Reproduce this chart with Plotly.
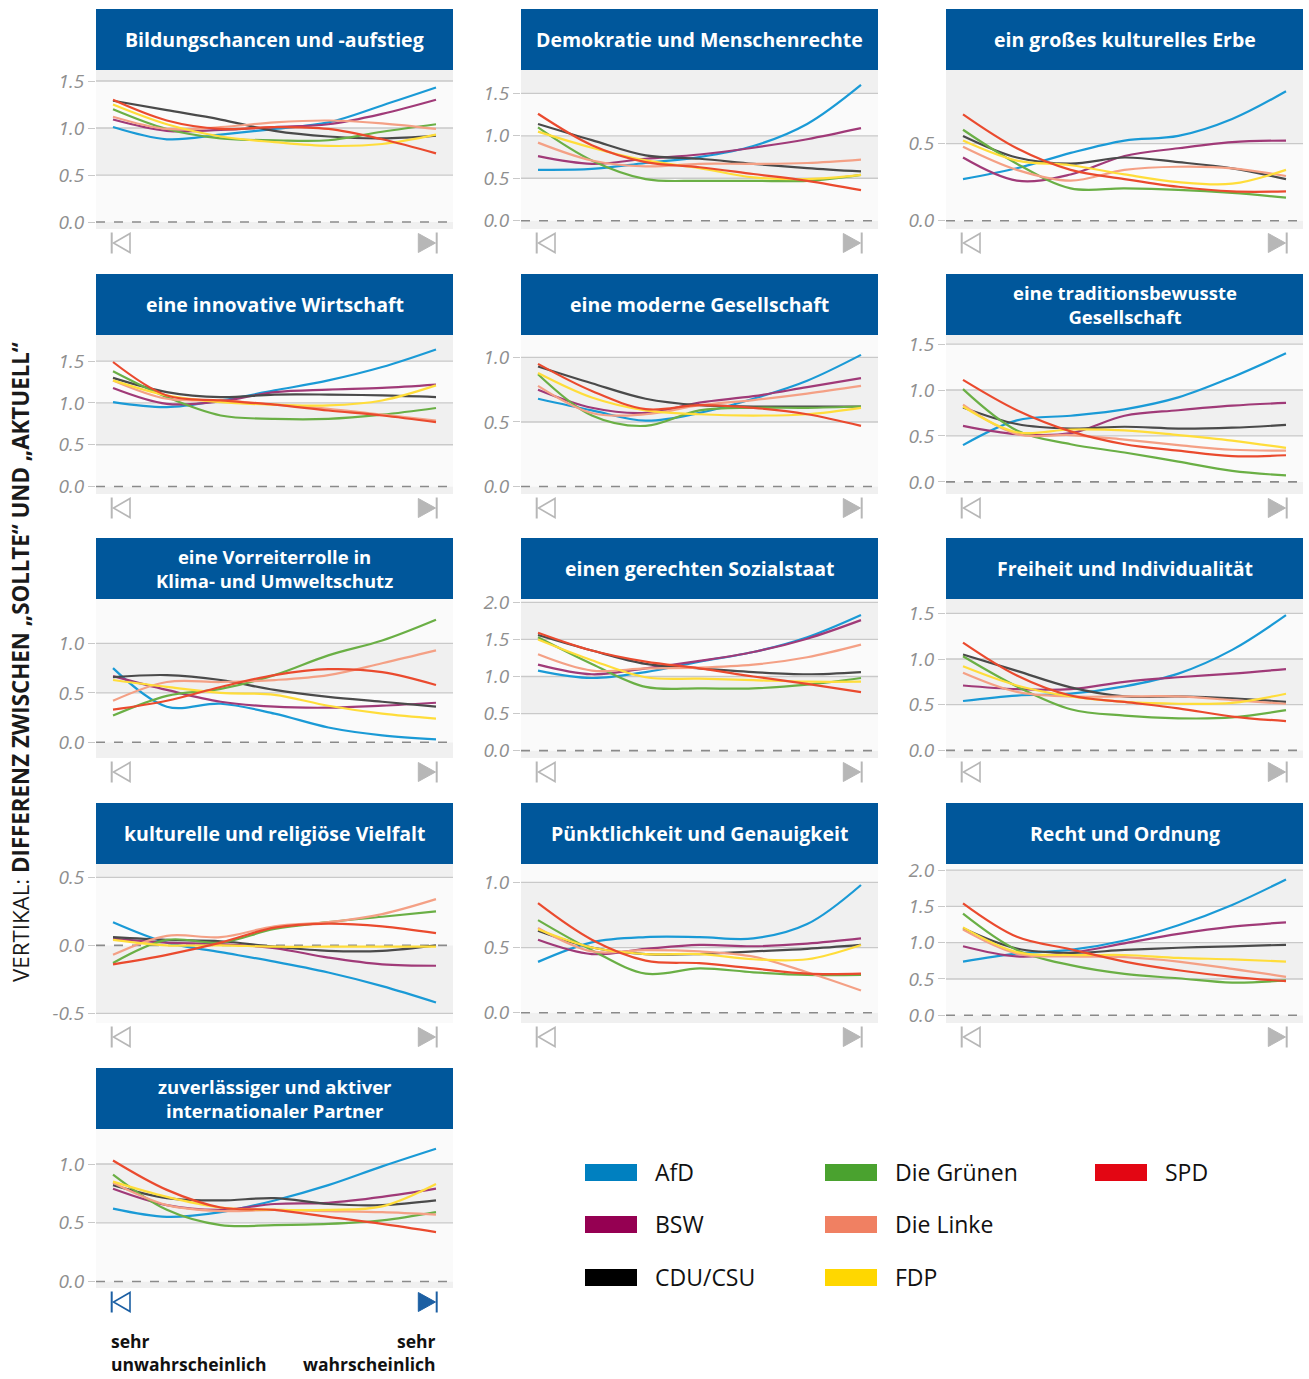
import math
import plotly.graph_objects as go

W, H = 1309, 1379

parties = ["AfD", "BSW", "CDU/CSU", "Die Grünen", "Die Linke", "FDP", "SPD"]
line_colors = ["#1a9ad6", "#a03a78", "#4a4a4a", "#6aaf45", "#f4a085", "#ffdd3a", "#ea4a2e"]
legend_colors = ["#0080c0", "#950052", "#000000", "#4aa22f", "#f08062", "#ffd700", "#e30613"]

# position on the scale "sehr unwahrscheinlich" (0) ... "sehr wahrscheinlich" (6)
x_scale = [0, 1, 2, 3, 4, 5, 6]

titles = [
    "Bildungschancen und -aufstieg",
    "Demokratie und Menschenrechte",
    "ein großes kulturelles Erbe",
    "eine innovative Wirtschaft",
    "eine moderne Gesellschaft",
    "eine traditionsbewusste<br>Gesellschaft",
    "eine Vorreiterrolle in<br>Klima- und Umweltschutz",
    "einen gerechten Sozialstaat",
    "Freiheit und Individualität",
    "kulturelle und religiöse Vielfalt",
    "Pünktlichkeit und Genauigkeit",
    "Recht und Ordnung",
    "zuverlässiger und aktiver<br>internationaler Partner",
]

# each panel: one list per party, in the order of `parties`
bildung = [
    [1.01, 0.88, 0.93, 0.99, 1.06, 1.24, 1.43],
    [1.09, 0.97, 0.98, 1.01, 1.04, 1.15, 1.30],
    [1.29, 1.19, 1.09, 0.97, 0.91, 0.89, 0.92],
    [1.20, 0.99, 0.89, 0.87, 0.87, 0.96, 1.04],
    [1.12, 0.99, 1.01, 1.06, 1.08, 1.05, 0.99],
    [1.25, 1.04, 0.91, 0.85, 0.81, 0.83, 0.93],
    [1.30, 1.08, 0.99, 1.01, 0.99, 0.88, 0.73],
]
demokratie = [
    [0.60, 0.61, 0.68, 0.75, 0.88, 1.14, 1.60],
    [0.76, 0.67, 0.73, 0.78, 0.86, 0.96, 1.09],
    [1.14, 0.95, 0.77, 0.73, 0.67, 0.62, 0.58],
    [1.10, 0.71, 0.49, 0.47, 0.47, 0.47, 0.54],
    [0.92, 0.71, 0.64, 0.67, 0.67, 0.68, 0.72],
    [1.05, 0.86, 0.71, 0.62, 0.51, 0.49, 0.54],
    [1.26, 0.89, 0.69, 0.63, 0.55, 0.47, 0.36],
]
erbe = [
    [0.27, 0.34, 0.44, 0.52, 0.55, 0.66, 0.84],
    [0.41, 0.26, 0.30, 0.42, 0.47, 0.51, 0.52],
    [0.55, 0.41, 0.37, 0.41, 0.38, 0.34, 0.27],
    [0.59, 0.37, 0.21, 0.21, 0.20, 0.18, 0.15],
    [0.48, 0.33, 0.26, 0.33, 0.35, 0.34, 0.29],
    [0.52, 0.39, 0.36, 0.30, 0.25, 0.24, 0.33],
    [0.69, 0.47, 0.33, 0.27, 0.22, 0.19, 0.19],
]
wirtschaft = [
    [1.01, 0.95, 1.03, 1.15, 1.27, 1.43, 1.64],
    [1.18, 0.99, 1.02, 1.13, 1.16, 1.18, 1.22],
    [1.30, 1.13, 1.07, 1.10, 1.10, 1.09, 1.07],
    [1.38, 1.07, 0.85, 0.81, 0.81, 0.86, 0.94],
    [1.27, 1.05, 1.03, 0.98, 0.93, 0.86, 0.79],
    [1.27, 1.09, 1.01, 0.98, 0.97, 1.03, 1.21],
    [1.49, 1.09, 1.03, 0.98, 0.91, 0.85, 0.77],
]
moderne = [
    [0.68, 0.59, 0.51, 0.57, 0.68, 0.82, 1.02],
    [0.75, 0.61, 0.57, 0.65, 0.70, 0.77, 0.84],
    [0.93, 0.80, 0.68, 0.63, 0.62, 0.62, 0.62],
    [0.87, 0.55, 0.47, 0.59, 0.61, 0.61, 0.62],
    [0.78, 0.57, 0.56, 0.63, 0.67, 0.72, 0.78],
    [0.88, 0.69, 0.59, 0.56, 0.55, 0.56, 0.61],
    [0.95, 0.74, 0.60, 0.63, 0.61, 0.56, 0.47],
]
tradition = [
    [0.40, 0.67, 0.72, 0.79, 0.92, 1.14, 1.40],
    [0.61, 0.52, 0.53, 0.72, 0.78, 0.83, 0.86],
    [0.81, 0.63, 0.58, 0.60, 0.58, 0.59, 0.62],
    [1.01, 0.56, 0.41, 0.32, 0.22, 0.12, 0.07],
    [0.84, 0.52, 0.51, 0.46, 0.40, 0.35, 0.34],
    [0.82, 0.54, 0.57, 0.56, 0.51, 0.45, 0.37],
    [1.11, 0.78, 0.55, 0.41, 0.34, 0.28, 0.29],
]
klima = [
    [0.75, 0.36, 0.39, 0.29, 0.15, 0.07, 0.03],
    [0.67, 0.53, 0.41, 0.36, 0.35, 0.37, 0.40],
    [0.66, 0.68, 0.63, 0.53, 0.46, 0.41, 0.36],
    [0.27, 0.47, 0.54, 0.68, 0.88, 1.03, 1.24],
    [0.42, 0.61, 0.61, 0.63, 0.68, 0.80, 0.93],
    [0.63, 0.56, 0.50, 0.48, 0.37, 0.29, 0.24],
    [0.33, 0.42, 0.56, 0.68, 0.74, 0.71, 0.58],
]
sozialstaat = [
    [1.08, 0.98, 1.06, 1.20, 1.33, 1.53, 1.83],
    [1.16, 1.03, 1.11, 1.21, 1.33, 1.51, 1.76],
    [1.56, 1.35, 1.17, 1.11, 1.06, 1.03, 1.06],
    [1.53, 1.17, 0.86, 0.84, 0.84, 0.89, 0.98],
    [1.30, 1.08, 1.11, 1.12, 1.16, 1.26, 1.43],
    [1.50, 1.22, 0.99, 0.97, 0.95, 0.93, 0.93],
    [1.59, 1.35, 1.20, 1.11, 1.00, 0.90, 0.79],
]
freiheit = [
    [0.54, 0.60, 0.62, 0.70, 0.84, 1.10, 1.48],
    [0.71, 0.67, 0.67, 0.75, 0.80, 0.84, 0.89],
    [1.05, 0.87, 0.69, 0.59, 0.59, 0.57, 0.53],
    [1.03, 0.70, 0.45, 0.38, 0.35, 0.36, 0.44],
    [0.85, 0.64, 0.59, 0.59, 0.59, 0.55, 0.51],
    [0.92, 0.71, 0.59, 0.53, 0.51, 0.52, 0.62],
    [1.18, 0.82, 0.60, 0.53, 0.46, 0.37, 0.32],
]
vielfalt = [
    [0.17, 0.02, -0.05, -0.12, -0.20, -0.30, -0.42],
    [0.05, 0.02, 0.01, -0.02, -0.09, -0.14, -0.15],
    [0.06, 0.04, 0.03, -0.01, -0.04, -0.04, 0.00],
    [-0.13, 0.04, 0.02, 0.12, 0.17, 0.21, 0.25],
    [-0.07, 0.07, 0.06, 0.14, 0.17, 0.23, 0.34],
    [0.04, 0.00, 0.00, -0.01, -0.01, -0.01, -0.01],
    [-0.14, -0.07, 0.02, 0.13, 0.16, 0.14, 0.09],
]
puenktlichkeit = [
    [0.39, 0.54, 0.58, 0.58, 0.57, 0.68, 0.98],
    [0.56, 0.45, 0.49, 0.52, 0.51, 0.53, 0.57],
    [0.63, 0.50, 0.45, 0.45, 0.47, 0.49, 0.52],
    [0.71, 0.48, 0.30, 0.34, 0.31, 0.29, 0.29],
    [0.65, 0.47, 0.48, 0.47, 0.43, 0.31, 0.17],
    [0.64, 0.50, 0.45, 0.45, 0.41, 0.41, 0.52],
    [0.84, 0.56, 0.40, 0.38, 0.34, 0.30, 0.30],
]
recht = [
    [0.74, 0.85, 0.90, 1.03, 1.24, 1.52, 1.87],
    [0.95, 0.81, 0.86, 0.99, 1.12, 1.22, 1.28],
    [1.20, 0.92, 0.86, 0.90, 0.93, 0.95, 0.97],
    [1.40, 0.90, 0.69, 0.57, 0.51, 0.45, 0.48],
    [1.18, 0.85, 0.81, 0.80, 0.74, 0.64, 0.53],
    [1.21, 0.87, 0.83, 0.83, 0.79, 0.77, 0.74],
    [1.54, 1.08, 0.91, 0.74, 0.62, 0.53, 0.47],
]
partner = [
    [0.62, 0.55, 0.59, 0.69, 0.82, 0.98, 1.13],
    [0.79, 0.65, 0.61, 0.66, 0.67, 0.72, 0.79],
    [0.82, 0.71, 0.69, 0.71, 0.66, 0.65, 0.69],
    [0.91, 0.61, 0.48, 0.48, 0.49, 0.52, 0.59],
    [0.84, 0.65, 0.60, 0.61, 0.60, 0.59, 0.57],
    [0.85, 0.72, 0.63, 0.61, 0.61, 0.64, 0.83],
    [1.03, 0.78, 0.63, 0.61, 0.55, 0.49, 0.42],
]

panels = [bildung, demokratie, erbe, wirtschaft, moderne, tradition, klima,
          sozialstaat, freiheit, vielfalt, puenktlichkeit, recht, partner]

y_ranges = [
    [-0.074, 1.617], [-0.098, 1.776], [-0.054, 0.978],
    [-0.089, 1.813], [-0.058, 1.174], [-0.132, 1.599],
    [-0.159, 1.45], [-0.099, 2.045], [-0.084, 1.657],
    [-0.571, 0.598], [-0.079, 1.141], [-0.106, 2.083],
    [-0.055, 1.298],
]
x_range = [-0.316, 6.316]

# ---------------- layout geometry (pixels) ----------------
col_left = [96, 521, 946]
panel_w = 357
row_top = [9, 274, 538, 803, 1068]
header_h = 61
plot_h = 159

HEADER_BLUE = "#00579b"
BAND_GRAY = "#f0f0f0"
BAND_LIGHT = "#fafafa"
GRID = "#c9c9c9"
FONT = "Open Sans"


def px(x):
    return x / W


def py(y):
    return 1 - y / H


fig = go.Figure()
shapes = []
annotations = []

for i, (title, data, yr) in enumerate(zip(titles, panels, y_ranges)):
    r, c = divmod(i, 3)
    n = i + 1
    sfx = "" if n == 1 else str(n)
    L = col_left[c]
    htop = row_top[r]
    ptop = htop + header_h
    pbot = ptop + plot_h

    for k, party in enumerate(parties):
        fig.add_trace(go.Scatter(
            x=x_scale, y=data[k], mode="lines", name=party,
            line=dict(color=line_colors[k], width=2.2, shape="spline", smoothing=1.0),
            xaxis="x" + sfx, yaxis="y" + sfx, showlegend=False, hoverinfo="skip",
        ))

    lo, hi = yr
    k0 = math.ceil(lo / 0.5 - 1e-9)
    k1 = math.floor(hi / 0.5 + 1e-9)
    tickvals = [k * 0.5 for k in range(k0, k1 + 1)]
    ticktext = [f"{v:.1f}" for v in tickvals]

    fig.update_layout({
        "xaxis" + sfx: dict(domain=[px(L), px(L + panel_w)], range=x_range,
                            visible=False, anchor="y" + sfx, fixedrange=True,
                            automargin=False),
        "yaxis" + sfx: dict(domain=[py(pbot), py(ptop)], range=yr, anchor="x" + sfx,
                            tickvals=tickvals, ticktext=ticktext, ticks="outside",
                            ticklen=7, tickcolor=GRID, tickwidth=1.3,
                            showgrid=False, zeroline=False, showline=False,
                            fixedrange=True, automargin=False,
                            tickfont=dict(family=FONT, size=19, color="#8f8f8f",
                                          style="italic")),
    })

    xd = "x" + sfx + " domain"
    ya = "y" + sfx
    # alternating bands per 0.5 interval
    for kk in range(math.floor(lo / 0.5), math.ceil(hi / 0.5)):
        y0 = max(kk * 0.5, lo)
        y1 = min((kk + 1) * 0.5, hi)
        shapes.append(dict(type="rect", xref=xd, yref=ya, x0=0, x1=1, y0=y0, y1=y1,
                           fillcolor=BAND_GRAY if kk % 2 else BAND_LIGHT,
                           line=dict(width=0), layer="below"))
    for v in tickvals:
        if abs(v) < 1e-9:
            shapes.append(dict(type="line", xref=xd, yref=ya, x0=0, x1=1, y0=0, y1=0,
                               line=dict(color="#8a8a8a", width=1.6, dash="dash"),
                               layer="below"))
        else:
            shapes.append(dict(type="line", xref=xd, yref=ya, x0=0, x1=1, y0=v, y1=v,
                               line=dict(color=GRID, width=1.3), layer="below"))

    # header box and title
    shapes.append(dict(type="rect", xref="paper", yref="paper",
                       x0=px(L), x1=px(L + panel_w), y0=py(htop + header_h), y1=py(htop),
                       fillcolor=HEADER_BLUE, line=dict(width=0)))
    two_lines = "<br>" in title
    annotations.append(dict(xref="paper", yref="paper", x=px(L + panel_w / 2),
                            y=py(htop + header_h / 2), text=f"<b>{title}</b>",
                            showarrow=False, xanchor="center", yanchor="middle",
                            align="center",
                            font=dict(family=FONT, size=18.5 if two_lines else 19.5,
                                      color="white")))

    # scale-end symbols
    tcol = "#1c5fa3" if n == 13 else "#b7b7b7"
    ty0 = pbot + 4.5
    ty1 = pbot + 23.5
    tmid = (ty0 + ty1) / 2
    shapes.append(dict(type="line", xref="paper", yref="paper",
                       x0=px(L + 15.7), x1=px(L + 15.7), y0=py(pbot + 3.5), y1=py(pbot + 24.5),
                       line=dict(color=tcol, width=2)))
    shapes.append(dict(type="path", xref="paper", yref="paper",
                       path=(f"M {px(L + 34)},{py(ty0)} L {px(L + 34)},{py(ty1)} "
                             f"L {px(L + 17.5)},{py(tmid)} Z"),
                       line=dict(color=tcol, width=1.6), fillcolor="rgba(0,0,0,0)"))
    shapes.append(dict(type="path", xref="paper", yref="paper",
                       path=(f"M {px(L + 322.3)},{py(ty0)} L {px(L + 322.3)},{py(ty1)} "
                             f"L {px(L + 339.5)},{py(tmid)} Z"),
                       line=dict(color=tcol, width=1), fillcolor=tcol))
    shapes.append(dict(type="line", xref="paper", yref="paper",
                       x0=px(L + 340.7), x1=px(L + 340.7), y0=py(pbot + 3.5), y1=py(pbot + 24.5),
                       line=dict(color=tcol, width=2)))

# scale labels under the last panel
L = col_left[0]
annotations.append(dict(xref="paper", yref="paper", x=px(L + 13), y=py(1378),
                        text="<b>sehr<br>unwahrscheinlich</b>", showarrow=False,
                        xanchor="left", yanchor="bottom", align="left",
                        font=dict(family=FONT, size=17.5, color="#111")))
annotations.append(dict(xref="paper", yref="paper", x=px(L + 342), y=py(1378),
                        text="<b>sehr<br>wahrscheinlich</b>", showarrow=False,
                        xanchor="right", yanchor="bottom", align="right",
                        font=dict(family=FONT, size=17.5, color="#111")))

# vertical axis title
annotations.append(dict(xref="paper", yref="paper", x=px(20), y=py(662),
                        text="VERTIKAL: <b>DIFFERENZ ZWISCHEN „SOLLTE“ UND „AKTUELL“</b>",
                        textangle=-90, showarrow=False, xanchor="center", yanchor="middle",
                        font=dict(family=FONT, size=22.3, color="#1a1a1a")))

# legend (drawn manually in three columns)
legend_cols = [585, 825, 1095]
legend_rows = [1172, 1224, 1277]
legend_slots = [(0, 0), (0, 1), (0, 2), (1, 0), (1, 1), (1, 2), (2, 0)]
for k, party in enumerate(parties):
    cc, rr = legend_slots[k]
    lx = legend_cols[cc]
    ly = legend_rows[rr]
    shapes.append(dict(type="rect", xref="paper", yref="paper",
                       x0=px(lx), x1=px(lx + 52), y0=py(ly + 9), y1=py(ly - 8),
                       fillcolor=legend_colors[k], line=dict(width=0)))
    annotations.append(dict(xref="paper", yref="paper", x=px(lx + 68), y=py(ly),
                            text=party, showarrow=False, xanchor="left", yanchor="middle",
                            font=dict(family=FONT, size=23, color="#111")))

fig.update_layout(
    width=W, height=H,
    margin=dict(l=0, r=0, t=0, b=0, pad=0, autoexpand=False),
    paper_bgcolor="white",
    plot_bgcolor=BAND_LIGHT,
    shapes=shapes,
    annotations=annotations,
    showlegend=False,
)

fig.write_html("out.html", config={"displayModeBar": False},
               post_script="document.body.style.margin='0';")
